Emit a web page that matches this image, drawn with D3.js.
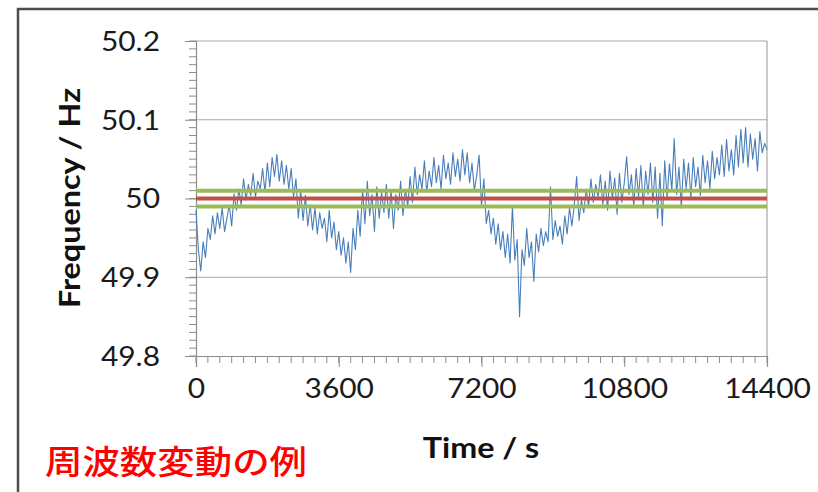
<!DOCTYPE html>
<html>
<head>
<meta charset="utf-8">
<script src="https://cdn.jsdelivr.net/npm/d3@7"></script>
<style>
  body { margin: 0; background: #fff; }
  svg { display: block; }
</style>
</head>
<body>
<div id="chart"></div>
<script>
// one sample per minute (Hz)
const stepSeconds = 60;
const frequency = [
  49.985, 49.935, 49.908, 49.945, 49.925, 49.962, 49.948, 49.978, 49.955, 49.982,
  49.962, 49.988, 49.958, 49.975, 49.992, 49.965, 50.006, 49.985, 50.012, 49.992,
  50.025, 49.998, 50.018, 50.004, 50.032, 50.002, 50.022, 50.012, 50.038, 50.008,
  50.045, 50.015, 50.052, 50.028, 50.056, 50.022, 50.048, 50.018, 50.042, 50.012,
  50.038, 50.002, 50.025, 49.975, 50.010, 49.972, 50.004, 49.965, 49.992, 49.960,
  49.988, 49.955, 49.982, 49.962, 49.975, 49.945, 49.985, 49.950, 49.970, 49.935,
  49.958, 49.928, 49.950, 49.918, 49.945, 49.906, 49.962, 49.935, 49.985, 49.952,
  50.012, 49.968, 50.022, 49.978, 50.005, 49.958, 50.015, 49.975, 50.008, 49.982,
  50.018, 49.975, 50.010, 49.962, 50.005, 49.985, 50.022, 49.978, 50.012, 49.990,
  50.028, 49.995, 50.040, 50.005, 50.030, 50.012, 50.048, 50.008, 50.035, 50.015,
  50.052, 50.020, 50.042, 50.012, 50.055, 50.025, 50.045, 50.018, 50.058, 50.028,
  50.050, 50.022, 50.062, 50.030, 50.058, 50.020, 50.045, 50.010, 50.030, 50.055,
  49.990, 50.025, 49.968, 49.985, 49.955, 49.975, 49.942, 49.968, 49.935, 49.958,
  49.925, 49.955, 49.918, 49.990, 49.922, 49.948, 49.850, 49.935, 49.915, 49.962,
  49.925, 49.945, 49.895, 49.955, 49.932, 49.962, 49.940, 49.958, 49.945, 50.015,
  49.948, 49.972, 49.952, 49.965, 49.942, 49.978, 49.955, 49.988, 49.965, 49.992,
  50.028, 49.972, 49.998, 49.982, 50.012, 49.990, 50.025, 49.995, 50.018, 50.002,
  50.030, 49.992, 50.022, 49.985, 50.035, 50.000, 50.026, 49.980, 50.032, 49.995,
  50.020, 50.053, 50.005, 50.030, 49.990, 50.038, 50.002, 50.042, 49.988, 50.035,
  50.005, 50.045, 49.995, 50.040, 49.975, 50.032, 49.965, 50.048, 50.000, 50.044,
  50.010, 50.076, 50.005, 50.040, 49.988, 50.050, 50.012, 50.045, 50.000, 50.052,
  50.015, 50.040, 50.004, 50.055, 50.020, 50.048, 50.012, 50.060, 50.025, 50.052,
  50.030, 50.068, 50.028, 50.075, 50.035, 50.062, 50.030, 50.080, 50.040, 50.088,
  50.045, 50.090, 50.040, 50.082, 50.050, 50.076, 50.035, 50.085, 50.058, 50.070,
  50.062
];

const xTicks = [0, 3600, 7200, 10800, 14400];
const yTicks = [49.8, 49.9, 50, 50.1, 50.2];
const nominal = 50;
const tolerance = [49.99, 50.01];

const W = 818, H = 492;
const margin = { top: 41, right: 51, bottom: 136, left: 196 };
const width = W - margin.left - margin.right;
const height = H - margin.top - margin.bottom;

const svg = d3.select("#chart").append("svg")
    .attr("width", W)
    .attr("height", H)
    .style("font-family", "Lato, 'Open Sans', sans-serif");

svg.append("rect").attr("width", W).attr("height", H).attr("fill", "#fff");

// outer frame (top + left edge of the slide box)
svg.append("path")
    .attr("d", `M18,${H} V9 H${W}`)
    .attr("fill", "none")
    .attr("stroke", "#4d4d4d")
    .attr("stroke-width", 2.5);

const g = svg.append("g")
    .attr("transform", `translate(${margin.left},${margin.top})`);

const x = d3.scaleLinear().domain([0, 14400]).range([0, width]);
const y = d3.scaleLinear().domain([49.8, 50.2]).range([height, 0]);

// gridlines
g.append("g")
  .selectAll("line")
  .data(yTicks.slice(1))
  .join("line")
    .attr("x1", 0).attr("x2", width)
    .attr("y1", d => y(d)).attr("y2", d => y(d))
    .attr("stroke", "#a6a6a6")
    .attr("stroke-width", 1.2);

// right border of plot area
g.append("line")
    .attr("x1", width).attr("x2", width)
    .attr("y1", 0).attr("y2", height)
    .attr("stroke", "#a6a6a6")
    .attr("stroke-width", 1.2);

// minor ticks
const yMinor = d3.range(0, 41).map(i => 49.8 + i * 0.01);
const xMinor = d3.range(0, 49).map(i => i * 300);

// Y axis
const yAxis = g.append("g")
    .call(d3.axisLeft(y).tickValues(yTicks).tickSize(11).tickFormat(d3.format("")));
yAxis.append("g")
  .selectAll("line")
  .data(yMinor)
  .join("line")
    .attr("x1", -7).attr("x2", 0)
    .attr("y1", d => y(d)).attr("y2", d => y(d))
    .attr("stroke", "#8c8c8c");

// X axis
const xAxis = g.append("g")
    .attr("transform", `translate(0,${height})`)
    .call(d3.axisBottom(x).tickValues(xTicks).tickSize(11).tickFormat(d3.format("")));
xAxis.append("g")
  .selectAll("line")
  .data(xMinor)
  .join("line")
    .attr("x1", d => x(d)).attr("x2", d => x(d))
    .attr("y1", 0).attr("y2", 7)
    .attr("stroke", "#8c8c8c");

[yAxis, xAxis].forEach(ax => {
  ax.select(".domain").attr("stroke", "#8c8c8c").attr("stroke-width", 1.2);
  ax.selectAll(".tick line").attr("stroke", "#8c8c8c");
  ax.selectAll(".tick text")
    .attr("fill", "#1a1a1a")
    .style("font-size", "26px")
    .style("font-family", "Lato, 'Open Sans', sans-serif");
});
yAxis.selectAll(".tick text").attr("x", -36).attr("dy", "0.36em");
xAxis.selectAll(".tick text").attr("y", 33).attr("dy", "0.36em");

// frequency trace
const line = d3.line()
    .x((d, i) => x(i * stepSeconds))
    .y(d => y(d));

g.append("path")
    .datum(frequency)
    .attr("d", line)
    .attr("fill", "none")
    .attr("stroke", "#4a7ebb")
    .attr("stroke-width", 1.1)
    .attr("stroke-linejoin", "round");

// tolerance band and nominal
g.append("g")
  .selectAll("line")
  .data(tolerance)
  .join("line")
    .attr("x1", 0).attr("x2", width)
    .attr("y1", d => y(d)).attr("y2", d => y(d))
    .attr("stroke", "#9bbb59")
    .attr("stroke-width", 4);

g.append("line")
    .attr("x1", 0).attr("x2", width)
    .attr("y1", y(nominal)).attr("y2", y(nominal))
    .attr("stroke", "#c0504d")
    .attr("stroke-width", 4);

// axis titles
svg.append("text")
    .attr("class", "stretch")
    .attr("x", 481).attr("y", 448)
    .attr("dy", "0.35em")
    .attr("text-anchor", "middle")
    .attr("font-weight", "bold")
    .style("font-size", "28px")
    .attr("fill", "#111")
    .text("Time / s");

svg.append("text")
    .attr("transform", "translate(70,198) rotate(-90)")
    .attr("dy", "0.35em")
    .attr("text-anchor", "middle")
    .attr("font-weight", "bold")
    .style("font-size", "28px")
    .attr("fill", "#111")
    .attr("textLength", 220)
    .attr("lengthAdjust", "spacingAndGlyphs")
    .text("Frequency / Hz");

svg.append("text")
    .attr("x", 45).attr("y", 462)
    .attr("dy", "0.36em")
    .attr("fill", "#ff0000")
    .attr("font-weight", 500)
    .style("font-family", "'Noto Sans CJK JP', sans-serif")
    .style("font-size", "33px")
    .attr("textLength", 262)
    .attr("lengthAdjust", "spacingAndGlyphs")
    .text("周波数変動の例");

// the source picture is a bit wider than tall: widen latin labels
function stretch(sel, k) {
  sel.each(function() {
    const len = this.getComputedTextLength();
    d3.select(this)
      .attr("textLength", len * k)
      .attr("lengthAdjust", "spacingAndGlyphs");
  });
}
stretch(svg.selectAll(".tick text"), 1.15);
stretch(svg.selectAll("text.stretch"), 1.15);
</script>
</body>
</html>
